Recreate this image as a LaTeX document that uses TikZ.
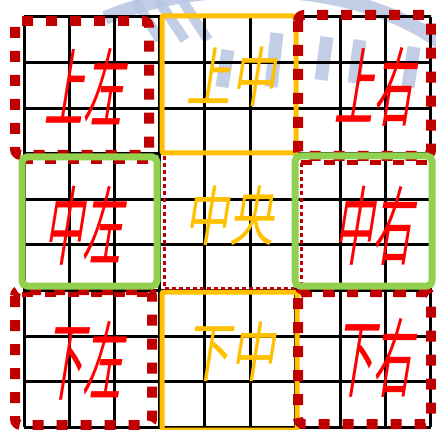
\documentclass[tikz,border=0pt]{standalone}
\usepackage{fontspec}
\newfontfamily\redcjk[FakeSlant=0.16,FakeStretch=0.45]{Noto Sans CJK SC}
\newfontfamily\yelcjk[FakeSlant=0.16,FakeStretch=0.68]{Noto Sans CJK SC}
\definecolor{darkred}{HTML}{C00000}
\definecolor{gold}{HTML}{FFC000}
\definecolor{lgreen}{HTML}{92D050}
\definecolor{wm}{HTML}{B8C6E2}
\tikzset{
  gridline/.style={black,line width=3pt},
  wmark/.style={wm,line width=14pt},
  reddash/.style={darkred,line width=10pt,dash pattern=on 11pt off 13pt,rounded corners=6pt},
  redmid/.style={darkred,line width=5pt,dash pattern=on 11pt off 12pt},
  redthin/.style={darkred,line width=3pt,dash pattern=on 4pt off 3pt},
  goldbox/.style={gold,line width=5pt,rounded corners=2pt},
  greenbox/.style={lgreen,line width=7pt,rounded corners=5pt},
  redtxt/.style={red,inner sep=0pt,font=\redcjk\fontsize{86}{86}\selectfont},
  goldtxt/.style={gold,inner sep=0pt,font=\yelcjk\fontsize{65}{65}\selectfont},
}
\begin{document}
\begin{tikzpicture}[x=1pt,y=-1pt]
\useasboundingbox (0,0) rectangle (436,430);
\fill[white] (0,0) rectangle (436,430);
% watermark
\begin{scope}[opacity=0.85]
\draw[wmark] (105,18) .. controls (200,-22) and (350,-22) .. (440,42);
\foreach \a/\b in {135/160,158/185,182/208}{
  \draw[wm,line width=10pt] (\a,0) -- (\b,40);
}
\foreach \xx/\yt/\yb in {224/50/87,273/33/87,323/37/80,356/40/83,410/47/87}{
  \draw[wm,line width=13pt] (\xx+4,\yt) -- (\xx-2,\yb);
}
\end{scope}
% grid
\foreach \i in {0,...,9}{
  \draw[gridline] ({24+45.2*\i},17) -- ({24+45.2*\i},427);
  \draw[gridline] (24,{17+45.6*\i}) -- (431,{17+45.6*\i});
}
% gold boxes
\draw[goldbox] (162,16) rectangle (296,153);
\draw[goldbox] (162,292) rectangle (297,430);
% red corner boxes
\draw[reddash] (15,21) rectangle (149,155);
\draw[reddash] (298,15) rectangle (431,156);
\draw[reddash] (15,290) rectangle (152,425);
\draw[reddash] (298,292) rectangle (431,424);
% red middle boxes
\draw[redmid] (22,162) -- (158,162);
\draw[redmid] (22,294) -- (160,294);
\draw[redmid] (301,163) -- (431,163);
\draw[redmid] (301,294) -- (431,294);
\draw[redthin] (164,156) -- (164,288) -- (296,288);
\draw[redthin] (301,163) -- (301,288);
% green boxes
\draw[greenbox] (22,157) rectangle (157,286);
\draw[greenbox] (295,156) rectangle (432,286);
% labels
\node[redtxt] (ul) at (83,87) {上左};
\node[goldtxt] (um) at (231,77) {上中};
\node[redtxt] (ur) at (373,87) {上右};
\node[redtxt] (ml) at (82,226) {中左};
\node[goldtxt] (mm) at (229,216) {中央};
\node[redtxt] (mr) at (372,226) {中右};
\node[redtxt] (ll) at (82,361) {下左};
\node[goldtxt] (lm) at (230,352) {下中};
\node[redtxt] (lr) at (372,358) {下右};
\end{tikzpicture}
\end{document}
